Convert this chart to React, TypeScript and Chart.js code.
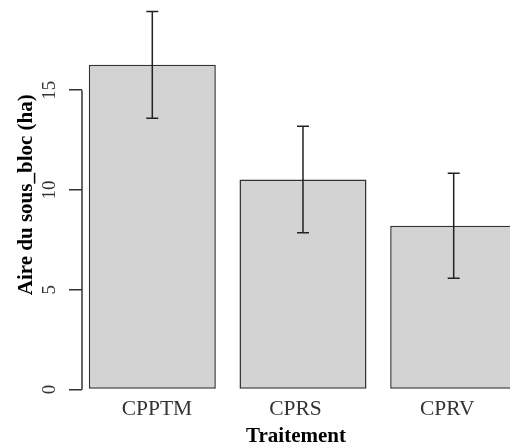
import React, { useEffect, useRef } from "react";
import { Chart, registerables } from "chart.js";

Chart.register(...registerables);

const categories = ["CPPTM", "CPRS", "CPRV"];
const positions = [1, 2, 3];
const labelPositions = [1.031, 1.95, 2.957];
const means = [16.27, 10.52, 8.21];
const errors = [2.67, 2.67, 2.63];
const yTickValues = [0, 5, 10, 15];

const X_MIN = 0.5335;
const X_MAX = 3.3736;
const FONT = "'Liberation Serif', 'Times New Roman', serif";

const errorBarPlugin = {
  id: "errorBars",
  afterDatasetsDraw(chart: any) {
    const { ctx, scales } = chart;
    const xs = scales.x;
    const ys = scales.y;
    ctx.save();
    ctx.strokeStyle = "#222";
    ctx.lineWidth = 1.5;
    positions.forEach((p, i) => {
      const x = xs.getPixelForValue(p);
      const yt = ys.getPixelForValue(means[i] + errors[i]);
      const yb = ys.getPixelForValue(means[i] - errors[i]);
      ctx.beginPath();
      ctx.moveTo(x, yt);
      ctx.lineTo(x, yb);
      ctx.moveTo(x - 6, yt);
      ctx.lineTo(x + 6, yt);
      ctx.moveTo(x - 6, yb);
      ctx.lineTo(x + 6, yb);
      ctx.stroke();
    });
    ctx.restore();
  },
};

const yAxisPlugin = {
  id: "rYAxis",
  afterDraw(chart: any) {
    const { ctx, chartArea } = chart;
    const ys = chart.scales.y;
    const x = chartArea.left;
    ctx.save();
    ctx.strokeStyle = "#333";
    ctx.lineWidth = 1.5;
    ctx.beginPath();
    ctx.moveTo(x, ys.getPixelForValue(yTickValues[0]));
    ctx.lineTo(x, ys.getPixelForValue(yTickValues[yTickValues.length - 1]));
    ctx.stroke();
    ctx.fillStyle = "#333";
    ctx.font = `19px ${FONT}`;
    ctx.textAlign = "center";
    ctx.textBaseline = "middle";
    yTickValues.forEach((v) => {
      ctx.save();
      ctx.translate(x - 32, ys.getPixelForValue(v));
      ctx.rotate(-Math.PI / 2);
      ctx.fillText(String(v), 0, 0);
      ctx.restore();
    });
    ctx.restore();
  },
};

export default function App() {
  const ref = useRef<HTMLCanvasElement>(null);

  useEffect(() => {
    if (!ref.current) return;
    const chart = new Chart(ref.current, {
      type: "bar",
      data: {
        datasets: [
          {
            xAxisID: "x",
            yAxisID: "y",
            data: positions.map((p, i) => ({ x: p, y: means[i] })),
            backgroundColor: "#d3d3d3",
            borderColor: "#333",
            borderWidth: 1.5,
            borderSkipped: false,
            barPercentage: 0.843,
            categoryPercentage: 1,
          },
        ],
      },
      options: {
        animation: false,
        responsive: true,
        maintainAspectRatio: false,
        layout: { padding: 0 },
        plugins: {
          legend: { display: false },
          tooltip: { enabled: false },
        },
        scales: {
          x: {
            type: "linear",
            display: false,
            offset: false,
            min: X_MIN,
            max: X_MAX,
            afterBuildTicks: (scale: any) => {
              scale.ticks = positions.map((v) => ({ value: v }));
            },
          },
          xl: {
            type: "linear",
            position: "bottom",
            offset: false,
            min: X_MIN,
            max: X_MAX,
            grid: { display: false, drawTicks: false },
            border: { display: false },
            afterBuildTicks: (scale: any) => {
              scale.ticks = labelPositions.map((v) => ({ value: v }));
            },
            afterFit: (scale: any) => {
              scale.height = 56.5;
              scale.paddingLeft = 0;
              scale.paddingRight = 0;
            },
            ticks: {
              autoSkip: false,
              maxRotation: 0,
              minRotation: 0,
              padding: 7,
              color: "#333",
              font: { family: FONT, size: 21.5 },
              callback: (_v: any, index: number) => categories[index],
            },
            title: {
              display: true,
              text: "Traitement",
              color: "#000",
              font: { family: FONT, size: 21, weight: "bold", lineHeight: 1 },
              padding: { top: 0, bottom: -1.5 },
            },
          },
          y: {
            min: 0,
            max: 19.52,
            afterBuildTicks: (scale: any) => {
              scale.ticks = yTickValues.map((v) => ({ value: v }));
            },
            afterFit: (scale: any) => {
              scale.width = 82;
              scale.paddingTop = 0;
              scale.paddingBottom = 0;
            },
            grid: {
              display: true,
              drawOnChartArea: false,
              drawTicks: true,
              tickLength: 13,
              color: "#333",
              lineWidth: 1.5,
            },
            border: { display: false },
            ticks: { display: false },
            title: {
              display: true,
              text: "Aire du sous_bloc (ha)",
              color: "#000",
              font: { family: FONT, size: 21, weight: "bold", lineHeight: 1 },
              padding: { top: 16, bottom: 0 },
            },
          },
        },
      },
      plugins: [errorBarPlugin, yAxisPlugin],
    });
    return () => chart.destroy();
  }, []);

  return (
    <div
      style={{
        position: "fixed",
        left: 0,
        top: 0,
        width: 510,
        height: 446,
        background: "#fff",
      }}
    >
      <canvas ref={ref} />
    </div>
  );
}
